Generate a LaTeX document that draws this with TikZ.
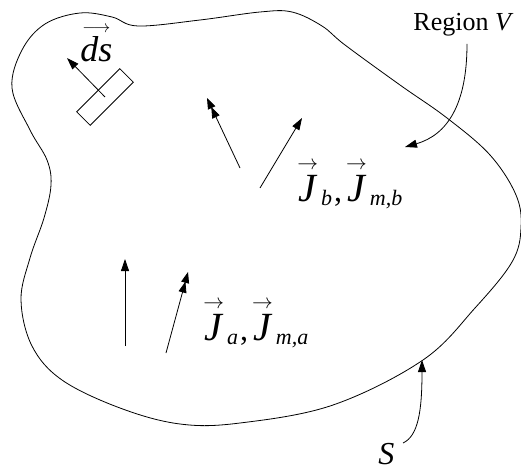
\documentclass[tikz,border=0pt]{standalone}
\usepackage{amsmath}
\usepackage{fontspec}
\setmainfont{Liberation Serif}
\usetikzlibrary{arrows.meta,calc}
\newcommand{\vecJ}{\ensuremath{\overset{\scriptscriptstyle\rightarrow}{\text{\itshape J}}}}
\newcommand{\subsc}[1]{\kern3pt\raisebox{-0.1em}{\fontsize{22}{22}\selectfont\itshape #1}}
\newcommand{\cmma}{\kern2pt{\fontsize{32}{32}\selectfont ,}\kern4pt}
\begin{document}
\begin{tikzpicture}[x=1pt,y=-1pt,line width=0.8pt,
  tip/.style={-{Triangle[length=12pt,width=8pt]}},
  dtip/.style={-{Triangle[length=11pt,width=8pt,sep=-1pt]Triangle[length=11pt,width=8pt]}},
  lbl/.style={inner sep=0pt,anchor=base west},
  elembox/.style={draw,minimum width=61pt,minimum height=19pt,inner sep=0pt,rotate=45}]
\useasboundingbox (0,0) rectangle (521,470);
% surface S
\draw plot[smooth cycle,tension=0.6] coordinates {
 (12,88) (22,50) (45,24) (80,13) (112,17) (138,26) (200,20) (260,12)
 (292,12) (322,26) (345,45) (400,85) (447,118) (490,155) (516,195)
 (521,228) (512,262) (475,308) (423,360) (333,405) (240,423) (180,424)
 (120,408) (62,380) (32,346) (21,300) (30,258) (44,218) (51,185)
 (47,160) (30,130)};
% surface element
\node[elembox] (elem) at (105,97) {};
\coordinate (dstip) at (67,58);
\draw[tip] (elem.center) -- (dstip);
\node[lbl,font=\fontsize{36}{40}\selectfont] (ds) at (80,62)
  {$\overset{\scriptscriptstyle\longrightarrow}{\text{\itshape ds}}$};
% current arrows b
\coordinate (b1s) at (240,168); \coordinate (b1e) at (207,98);
\draw[dtip] (b1s) -- (b1e);
\coordinate (b2s) at (260,188); \coordinate (b2e) at (302,118);
\draw[tip] (b2s) -- (b2e);
\node[lbl,font=\fontsize{40}{44}\selectfont] (Jb) at (297,201)
  {\vecJ\subsc{b}\cmma\vecJ\subsc{m,b}};
% current arrows a
\coordinate (a1s) at (125,346); \coordinate (a1e) at (125,259);
\draw[tip] (a1s) -- (a1e);
\coordinate (a2s) at (166,353); \coordinate (a2e) at (188,272);
\draw[dtip] (a2s) -- (a2e);
\node[lbl,font=\fontsize{40}{44}\selectfont] (Ja) at (203,340)
  {\vecJ\subsc{a}\cmma\vecJ\subsc{m,a}};
% Region V label
\node[lbl,font=\fontsize{26}{30}\selectfont] (rv) at (413,31) {Region \textit{V}};
\coordinate (rvs) at (467,44);
\coordinate (rve) at (405,147);
\draw[tip] (rvs) .. controls (467,105) and (447,135) .. (rve);
% S label
\node[lbl,font=\fontsize{32}{36}\selectfont] (S) at (378,464) {\textit{S}};
\coordinate (ss) at (403,443);
\coordinate (se) at (422,360);
\draw[tip] (ss) .. controls (418,436) and (422,412) .. (se);
\end{tikzpicture}
\end{document}
